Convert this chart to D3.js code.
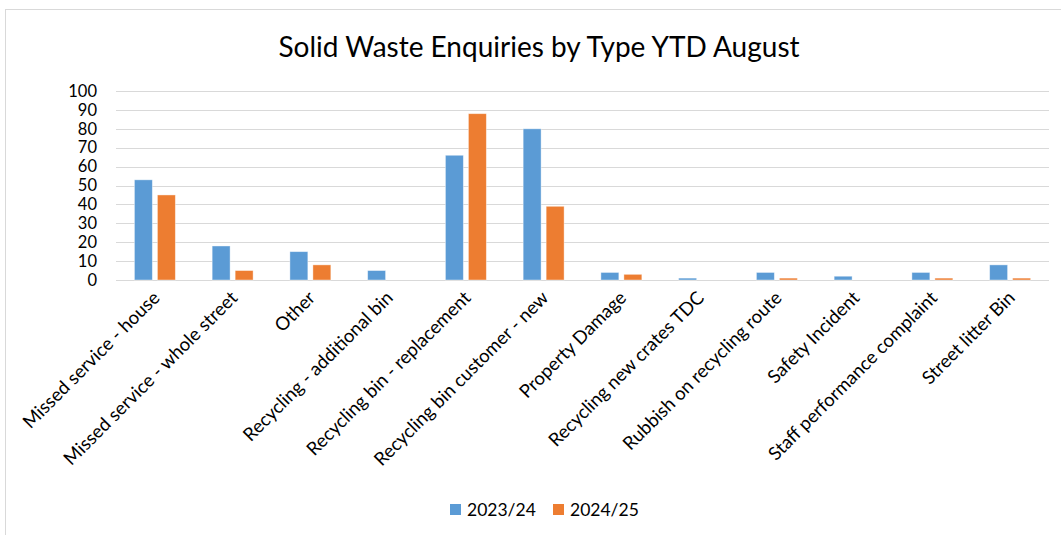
<!DOCTYPE html>
<html>
<head>
<meta charset="utf-8">
<script src="https://cdn.jsdelivr.net/npm/d3@7"></script>
<style>
  body { margin: 0; background: #fff; }
  svg { font-family: Lato, "Open Sans", sans-serif; }
</style>
</head>
<body>
<div id="chart"></div>
<script>
var categories = [
  "Missed service - house",
  "Missed service - whole street",
  "Other",
  "Recycling - additional bin",
  "Recycling bin - replacement",
  "Recycling bin customer - new",
  "Property Damage",
  "Recycling new crates TDC",
  "Rubbish on recycling route",
  "Safety Incident",
  "Staff performance complaint",
  "Street litter Bin"
];
var seriesNames = ["2023/24", "2024/25"];
var values2324 = [53, 18, 15, 5, 66, 80, 4, 1, 4, 2, 4, 8];
var values2425 = [45, 5, 8, 0, 88, 39, 3, 0, 1, 0, 1, 1];
var yTicks = [0, 10, 20, 30, 40, 50, 60, 70, 80, 90, 100];
var colors = ["#5B9BD5", "#ED7D31"];

var width = 1061, height = 535;
var margin = { top: 91, left: 116, right: 12, bottom: 255 };

var svg = d3.select("#chart").append("svg")
    .attr("width", width)
    .attr("height", height);

// chart frame
svg.append("rect")
    .attr("x", 5.5).attr("y", 9.5)
    .attr("width", width + 10).attr("height", height + 10)
    .attr("fill", "none")
    .attr("stroke", "#d9d9d9");

svg.append("text")
    .attr("x", 539).attr("y", 57)
    .attr("text-anchor", "middle")
    .attr("font-size", 28)
    .attr("fill", "#000")
    .text("Solid Waste Enquiries by Type YTD August");

var x0 = d3.scaleBand()
    .domain(categories)
    .range([margin.left, width - margin.right]);

var x1 = d3.scaleBand()
    .domain(seriesNames)
    .range([0, x0.bandwidth()])
    .paddingInner(0.22)
    .paddingOuter(0.8);

var y = d3.scaleLinear()
    .domain([0, 100])
    .range([height - margin.bottom, margin.top]);

// gridlines
svg.append("g")
    .selectAll("line")
    .data(yTicks)
    .join("line")
    .attr("x1", margin.left)
    .attr("x2", width - margin.right)
    .attr("y1", function(d) { return Math.round(y(d)) + 0.5; })
    .attr("y2", function(d) { return Math.round(y(d)) + 0.5; })
    .attr("stroke", "#d9d9d9")
    .attr("stroke-width", 1.2);

// y axis labels
var yAxis = svg.append("g")
    .attr("transform", "translate(" + (margin.left - 19) + ",0)")
    .call(d3.axisLeft(y).tickValues(yTicks).tickSize(0).tickPadding(0));
yAxis.select(".domain").remove();
yAxis.selectAll("text")
    .attr("font-family", "Lato, 'Open Sans', sans-serif")
    .attr("font-size", 16.5)
    .attr("fill", "#000");

var series = [values2324, values2425];

var groups = svg.append("g")
    .selectAll("g")
    .data(categories)
    .join("g")
    .attr("transform", function(d) { return "translate(" + x0(d) + ",0)"; });

groups.selectAll("rect")
    .data(function(d, i) {
      return seriesNames.map(function(s, j) { return { key: s, value: series[j][i], idx: j }; });
    })
    .join("rect")
    .attr("x", function(d) { return x1(d.key); })
    .attr("width", x1.bandwidth())
    .attr("y", function(d) { return y(d.value); })
    .attr("height", function(d) { return y(0) - y(d.value); })
    .attr("fill", function(d) { return colors[d.idx]; })
    .attr("stroke", "#fff")
    .attr("stroke-opacity", 0.5)
    .attr("stroke-width", 0.8);

// category labels, rotated
var xAxis = svg.append("g")
    .attr("transform", "translate(0," + y(0) + ")")
    .call(d3.axisBottom(x0).tickSize(0).tickPadding(0));
xAxis.select(".domain").remove();
xAxis.selectAll("text")
    .attr("font-family", "Lato, 'Open Sans', sans-serif")
    .attr("font-size", 18.5)
    .attr("fill", "#000")
    .attr("text-anchor", "end")
    .attr("dy", 0)
    .attr("transform", "translate(6,19) rotate(-45)");

// legend
var legend = svg.append("g")
    .attr("transform", "translate(450,504)");
var legendX = [0, 103];
seriesNames.forEach(function(s, i) {
  var g = legend.append("g").attr("transform", "translate(" + legendX[i] + ",0)");
  g.append("rect")
      .attr("width", 11).attr("height", 11)
      .attr("fill", colors[i]);
  g.append("text")
      .attr("x", 17).attr("y", 12)
      .attr("font-size", 17.5)
      .attr("fill", "#000")
      .text(s);
});
</script>
</body>
</html>
